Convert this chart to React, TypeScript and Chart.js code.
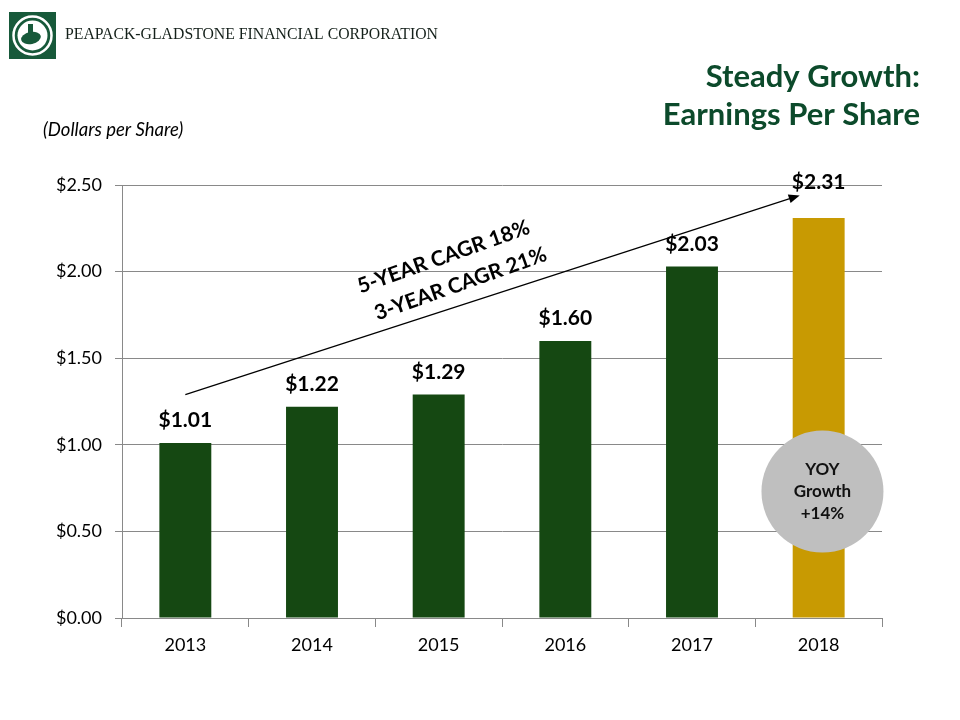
import React, { useEffect, useRef } from "react";
import { Chart, registerables } from "chart.js";

Chart.register(...registerables);

const categories = ["2013", "2014", "2015", "2016", "2017", "2018"];
const eps = [1.01, 1.22, 1.29, 1.6, 2.03, 2.31];
const yTickValues = [0, 0.5, 1.0, 1.5, 2.0, 2.5];
const cagrLines = ["5-YEAR CAGR 18%", "3-YEAR CAGR 21%"];
const circleLines = ["YOY", "Growth", "+14%"];
const titleLines = ["Steady Growth:", "Earnings Per Share"];
const unitLabel = "(Dollars per Share)";
const companyName = "PEAPACK-GLADSTONE FINANCIAL CORPORATION";
// trend arrow (category index, value)
const arrowFrom = [0, 1.29];
const arrowTo = [4.85, 2.44];
// growth bubble location (category index, value)
const bubbleAt = [5.03, 0.73];

const GREEN = "#154812";
const GOLD = "#C89A02";
const TITLE = "#0C4A2B";
const GRID = "#898989";
const FONT = "Lato, 'Open Sans', sans-serif";

const decorPlugin = {
  id: "decor",
  afterDraw(chart: any) {
    const ctx = chart.ctx;
    const xs = chart.scales.x;
    const ys = chart.scales.y;
    ctx.save();

    // value labels
    ctx.fillStyle = "#000";
    ctx.font = `bold 21px ${FONT}`;
    ctx.textAlign = "center";
    ctx.textBaseline = "bottom";
    const meta = chart.getDatasetMeta(0);
    meta.data.forEach((bar: any, i: number) => {
      const extra = i === eps.length - 1 ? 13 : 0;
      ctx.fillText("$" + eps[i].toFixed(2), bar.x, bar.y - 12 - extra);
    });

    // arrow
    const x1 = xs.getPixelForValue(arrowFrom[0]);
    const y1 = ys.getPixelForValue(arrowFrom[1]);
    const x2 = xs.getPixelForValue(arrowTo[0]);
    const y2 = ys.getPixelForValue(arrowTo[1]);
    const ang = Math.atan2(y2 - y1, x2 - x1);
    ctx.strokeStyle = "#000";
    ctx.lineWidth = 1.2;
    ctx.beginPath();
    ctx.moveTo(x1, y1);
    ctx.lineTo(x2 - 8 * Math.cos(ang), y2 - 8 * Math.sin(ang));
    ctx.stroke();
    ctx.fillStyle = "#000";
    ctx.beginPath();
    ctx.moveTo(x2, y2);
    ctx.lineTo(x2 - 11 * Math.cos(ang) + 4.5 * Math.sin(ang), y2 - 11 * Math.sin(ang) - 4.5 * Math.cos(ang));
    ctx.lineTo(x2 - 11 * Math.cos(ang) - 4.5 * Math.sin(ang), y2 - 11 * Math.sin(ang) + 4.5 * Math.cos(ang));
    ctx.closePath();
    ctx.fill();

    // CAGR text
    const midX = x1 + (x2 - x1) * 0.44;
    const midY = y1 + (y2 - y1) * 0.44;
    const offs = [[-12, -50], [5, -23]];
    ctx.font = `bold 21px ${FONT}`;
    ctx.textAlign = "center";
    ctx.textBaseline = "middle";
    cagrLines.forEach((t, i) => {
      ctx.save();
      ctx.translate(midX + offs[i][0], midY + offs[i][1]);
      ctx.rotate(-19.5 * Math.PI / 180);
      ctx.fillText(t, 0, 0);
      ctx.restore();
    });

    // bubble
    const bx = xs.getPixelForValue(bubbleAt[0]);
    const by = ys.getPixelForValue(bubbleAt[1]);
    ctx.fillStyle = "#BFBFBF";
    ctx.beginPath();
    ctx.arc(bx, by, 61, 0, Math.PI * 2);
    ctx.fill();
    ctx.fillStyle = "#111";
    ctx.font = `bold 17px ${FONT}`;
    ctx.textAlign = "center";
    ctx.textBaseline = "middle";
    circleLines.forEach((t, i) => ctx.fillText(t, bx, by - 22 + i * 22));

    // title
    ctx.fillStyle = TITLE;
    ctx.font = `bold 31px ${FONT}`;
    ctx.textAlign = "right";
    ctx.textBaseline = "middle";
    titleLines.forEach((t, i) => ctx.fillText(t, 920, 77 + i * 38));

    // unit label
    ctx.fillStyle = "#000";
    ctx.font = `italic 18.5px ${FONT}`;
    ctx.textAlign = "left";
    ctx.fillText(unitLabel, 43, 130);

    // logo
    ctx.fillStyle = "#17593A";
    ctx.fillRect(9, 12, 47, 47);
    ctx.strokeStyle = "#fff";
    ctx.lineWidth = 2.5;
    ctx.beginPath();
    ctx.arc(32.5, 35.5, 19, 0, Math.PI * 2);
    ctx.stroke();
    ctx.fillStyle = "#fff";
    ctx.beginPath();
    ctx.arc(32.5, 35.5, 15, 0, Math.PI * 2);
    ctx.fill();
    ctx.fillStyle = "#17593A";
    ctx.beginPath();
    ctx.ellipse(31, 38, 10, 6, -0.2, 0, Math.PI * 2);
    ctx.fill();
    ctx.fillRect(28, 24, 5, 10);
    ctx.fillStyle = "#14201a";
    ctx.font = `17px 'Liberation Serif', 'DejaVu Serif', serif`;
    ctx.textAlign = "left";
    ctx.textBaseline = "middle";
    ctx.fillText(companyName, 65, 35, 373);

    ctx.restore();
  },
};

export default function App() {
  const ref = useRef<HTMLCanvasElement>(null);
  useEffect(() => {
    document.body.style.margin = "0";
    const chart = new Chart(ref.current!, {
      type: "bar",
      data: {
        labels: categories,
        datasets: [
          {
            data: eps,
            backgroundColor: eps.map((_, i) => (i === eps.length - 1 ? GOLD : GREEN)),
            categoryPercentage: 1,
            barPercentage: 0.41,
          },
        ],
      },
      options: {
        responsive: false,
        animation: false,
        layout: { padding: { top: 185, right: 78, left: 0, bottom: 0 } },
        plugins: { legend: { display: false }, tooltip: { enabled: false }, title: { display: false } },
        scales: {
          x: {
            grid: { display: true, drawOnChartArea: false, drawTicks: true, tickLength: 9, color: GRID, offset: true },
            border: { display: true, color: GRID, width: 1 },
            ticks: { color: "#000", font: { family: FONT, size: 18 }, padding: 7 },
            afterFit: (s: any) => { s.height = 102; },
          },
          y: {
            min: 0,
            max: 2.5,
            afterBuildTicks: (s: any) => { s.ticks = yTickValues.map((v) => ({ value: v })); },
            grid: { color: GRID, tickLength: 7, lineWidth: 1 },
            border: { display: true, color: GRID, width: 1 },
            ticks: {
              color: "#000",
              font: { family: FONT, size: 18 },
              padding: 13,
              callback: (v: any) => "$" + Number(v).toFixed(2),
            },
            afterFit: (s: any) => { s.width = 122; },
          },
        },
      },
      plugins: [decorPlugin],
    });
    return () => chart.destroy();
  }, []);
  return (
    <div style={{ position: "absolute", left: 0, top: 0, width: 960, height: 720, background: "#fff" }}>
      <canvas ref={ref} width={960} height={720} style={{ width: 960, height: 720 }} />
    </div>
  );
}
